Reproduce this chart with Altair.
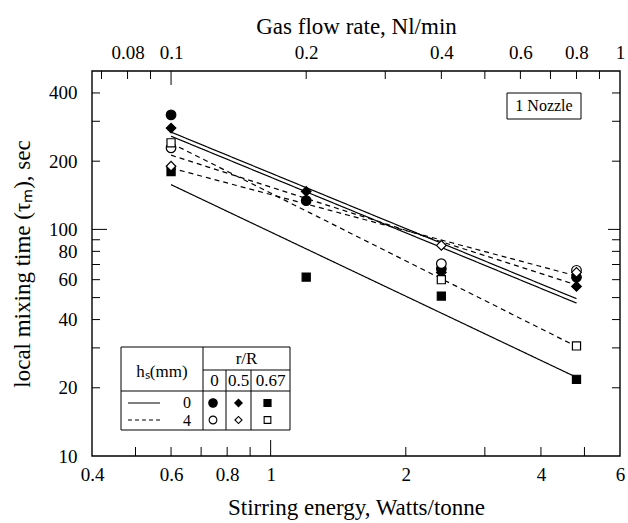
import altair as alt
import pandas as pd

# ---- data ----
energy = [0.6, 1.2, 2.4, 4.8]          # Stirring energy, W/t
hs0_r0 = [320, 134, 67, 61.5]           # filled circle
hs0_r05 = [280, 147, 64.5, 56]          # filled diamond
hs0_r067 = [180, 61.6, 50.8, 21.8]      # filled square
hs4_r0 = [229, None, 70.6, 66]          # open circle
hs4_r05 = [190, None, 85, 64.6]         # open diamond
hs4_r067 = [241, None, 60, 30.6]        # open square

x_labels = [0.4, 0.6, 0.8, 1, 2, 4, 6]
x_minor = [0.5, 0.6, 0.7, 0.8, 0.9, 2, 3, 4, 5]
x_major = [1]
gas_labels = [0.08, 0.1, 0.2, 0.4, 0.6, 0.8, 1]
gas_minor = [0.07, 0.08, 0.09, 0.2, 0.3, 0.4, 0.5, 0.6, 0.7, 0.8, 0.9]
gas_major = [0.1]
y_labels = [10, 20, 40, 60, 80, 100, 200, 400]
y_minor = [20, 30, 40, 50, 60, 70, 80, 90, 200, 300, 400]
y_major = [100]

series = [("0", "0", hs0_r0), ("0", "0.5", hs0_r05), ("0", "0.67", hs0_r067),
          ("4", "0", hs4_r0), ("4", "0.5", hs4_r05), ("4", "0.67", hs4_r067)]
rows = []
for hs, rr, vals in series:
    for e, v in zip(energy, vals):
        if v is not None:
            rows.append({"energy": e, "tau": v, "hs": hs, "rR": rr})
df = pd.DataFrame(rows)

W, H = 528, 385
FONT = "Liberation Serif"
xs = alt.Scale(type="log", domain=[0.4, 6], nice=False)
gs = alt.Scale(type="log", domain=[0.4 / 6, 1], nice=False)
ys = alt.Scale(type="log", domain=[10, 500], nice=False)
shape_scale = alt.Scale(domain=["0", "0.5", "0.67"], range=["circle", "diamond", "square"])
fill_scale = alt.Scale(domain=["0", "4"], range=["black", "white"])
dash_scale = alt.Scale(domain=["0", "4"], range=[[1, 0], [5, 4]])

bottom_axis = alt.Axis(
    orient="bottom", values=x_labels, format="~g", ticks=False, domain=False, grid=False,
    labelFont=FONT, labelFontSize=19, labelColor="black", labelPadding=9,
    labelFlush=False, labelOverlap=False,
    title="Stirring energy, Watts/tonne", titleFont=FONT, titleFontSize=23,
    titleFontWeight="normal", titleColor="black", titlePadding=12)

left_axis = alt.Axis(
    orient="left", values=y_labels, format="~g", ticks=False, domain=False, grid=False,
    labelFont=FONT, labelFontSize=19, labelColor="black", labelPadding=15,
    labelOverlap=False, labelFlush=False,
    title="local mixing time (τₘ), sec", titleFont=FONT, titleFontSize=23,
    titleFontWeight="normal", titleColor="black", titlePadding=14)

top_axis = alt.Axis(
    orient="top", values=gas_labels, format="~g", ticks=False, domain=False, grid=False,
    labelFont=FONT, labelFontSize=19, labelColor="black", labelPadding=9,
    labelFlush=False, labelOverlap=False,
    title="Gas flow rate, Nl/min", titleFont=FONT, titleFontSize=23,
    titleFontWeight="normal", titleColor="black", titlePadding=5)

points = alt.Chart(df).mark_point(filled=True, stroke="black", strokeWidth=1.2, opacity=1).encode(
    x=alt.X("energy:Q", scale=xs, axis=bottom_axis),
    y=alt.Y("tau:Q", scale=ys, axis=None),
    shape=alt.Shape("rR:N", scale=shape_scale, legend=None),
    fill=alt.Fill("hs:N", scale=fill_scale, legend=None),
    size=alt.condition(alt.datum.rR == "0.67", alt.value(66), alt.value(92)),
)

lines = alt.Chart(df).transform_regression(
    "energy", "tau", groupby=["hs", "rR"], method="pow", extent=[0.6, 4.8]
).mark_line(color="black", strokeWidth=1.2).encode(
    x=alt.X("energy:Q", scale=xs, axis=None),
    y=alt.Y("tau:Q", scale=ys, axis=None),
    detail="rR:N",
    strokeDash=alt.StrokeDash("hs:N", scale=dash_scale, legend=None),
)


def xticks(vals, length):
    return alt.Chart(pd.DataFrame({"v": vals})).mark_rule(color="black", strokeWidth=1).encode(
        x=alt.X("v:Q", scale=xs, axis=None), y=alt.value(H), y2=alt.value(H - length))


def gticks(vals, length, axis=None):
    if axis is None:
        enc = alt.X("v:Q", scale=gs, axis=None)
    else:
        enc = alt.X("v:Q", scale=gs, axis=axis)
    return alt.Chart(pd.DataFrame({"v": vals})).mark_rule(color="black", strokeWidth=1).encode(
        x=enc, y=alt.value(0), y2=alt.value(length))


def yticks(vals, length, right=False, axis=None):
    x0 = W if right else 0
    x1 = W - length if right else length
    if axis is None:
        enc = alt.Y("v:Q", scale=ys, axis=None)
    else:
        enc = alt.Y("v:Q", scale=ys, axis=axis)
    return alt.Chart(pd.DataFrame({"v": vals})).mark_rule(color="black", strokeWidth=1).encode(
        y=enc, x=alt.value(x0), x2=alt.value(x1))


one = pd.DataFrame({"a": [0]})


def rule(x1, y1, x2, y2, dash=False, width=1):
    if dash:
        m = alt.Chart(one).mark_rule(color="black", strokeWidth=width, strokeDash=[4, 3])
    else:
        m = alt.Chart(one).mark_rule(color="black", strokeWidth=width)
    return m.encode(x=alt.value(x1), y=alt.value(y1), x2=alt.value(x2), y2=alt.value(y2))


def text(x, y, s, size=17):
    return alt.Chart(one).mark_text(text=s, font=FONT, fontSize=size, align="center",
                                    baseline="middle", color="black").encode(
        x=alt.value(x), y=alt.value(y))


def sym(x, y, shape, filled, size):
    return alt.Chart(one).mark_point(shape=shape, filled=True, fill="black" if filled else "white",
                                     stroke="black", strokeWidth=1.1, size=size, opacity=1).encode(
        x=alt.value(x), y=alt.value(y))


# plot frame
frame = alt.Chart(one).mark_rect(fill="transparent", stroke="black", strokeWidth=1.4).encode(
    x=alt.value(0), x2=alt.value(W), y=alt.value(0), y2=alt.value(H))

# legend table (plot-area pixel positions)
L, R, T, B = 29, 198, 276, 359
legend_layers = [
    alt.Chart(one).mark_rect(fill="white", stroke="black", strokeWidth=1).encode(
        x=alt.value(L), x2=alt.value(R), y=alt.value(T), y2=alt.value(B)),
    rule(111, T, 111, B),
    rule(111, 299, R, 299),
    rule(L, 320, R, 320),
    rule(134, 299, 134, B),
    rule(159, 299, 159, B),
    text(70, 301, "hₛ(mm)"),
    text(154.5, 288, "r/R"),
    text(122.5, 310, "0"),
    text(146.5, 310, "0.5"),
    text(178.5, 310, "0.67"),
    rule(36, 332, 68, 332),
    rule(36, 349, 68, 349, dash=True),
    text(95, 331.5, "0", 16),
    text(95, 349.5, "4", 16),
    sym(121, 332, "circle", True, 72),
    sym(146.5, 332, "diamond", True, 55),
    sym(175.5, 332, "square", True, 50),
    sym(121, 349, "circle", False, 60),
    sym(146.5, 349, "diamond", False, 50),
    sym(175.5, 349, "square", False, 45),
]

nozzle = [
    alt.Chart(one).mark_rect(fill="white", stroke="black", strokeWidth=1).encode(
        x=alt.value(415), x2=alt.value(489), y=alt.value(22), y2=alt.value(48)),
    text(452, 35, "1 Nozzle", 16),
]

chart = alt.layer(
    yticks(y_minor, 8, axis=left_axis), yticks(y_major, 15),
    yticks(y_minor, 8, right=True), yticks(y_major, 12, right=True),
    xticks(x_minor, 9), xticks(x_major, 16),
    gticks(gas_minor, 8, top_axis), gticks(gas_major, 14),
    frame, lines, points,
    *legend_layers, *nozzle,
).resolve_scale(x="independent").resolve_axis(x="independent", y="independent").properties(
    width=W, height=H,
    background="white",
    autosize=alt.AutoSizeParams(type="none"),
    padding={"left": 92, "top": 71, "right": 8, "bottom": 67},
).configure_view(stroke=None)

chart.save("out.html", embed_options={"renderer": "svg", "actions": False})
